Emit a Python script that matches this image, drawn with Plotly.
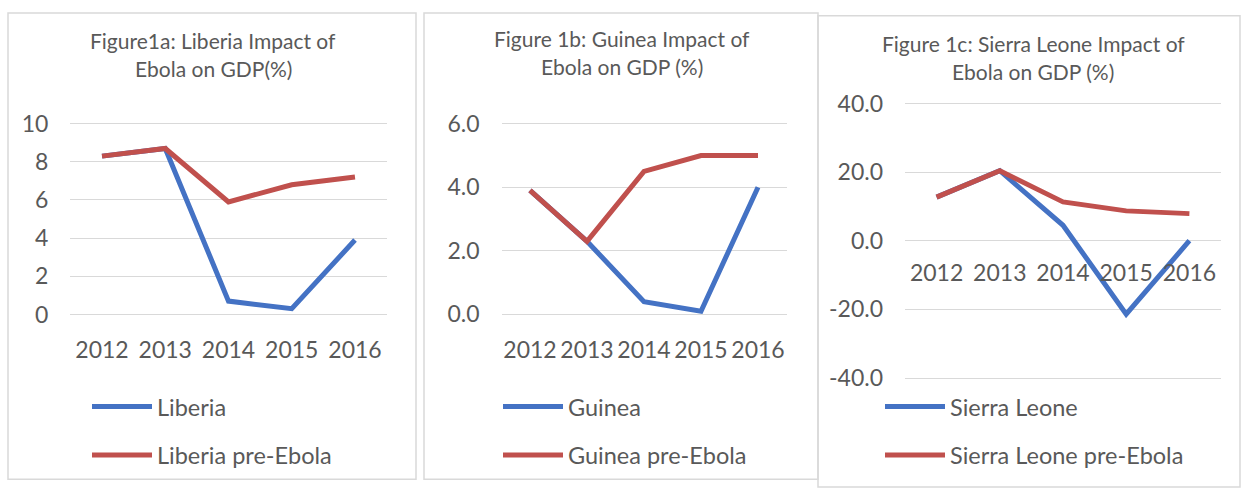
import plotly.graph_objects as go

W, H = 1245, 492

# ---------------- data ----------------
years = ['2012', '2013', '2014', '2015', '2016']

liberia = [8.3, 8.7, 0.7, 0.3, 3.9]
liberia_pre = [8.3, 8.7, 5.9, 6.8, 7.2]

guinea = [3.9, 2.3, 0.4, 0.1, 4.0]
guinea_pre = [3.9, 2.3, 4.5, 5.0, 5.0]

sierra = [12.7, 20.4, 4.5, -21.4, 0.0]
sierra_pre = [12.7, 20.4, 11.3, 8.7, 7.9]

liberia_ticks = [0, 2, 4, 6, 8, 10]
liberia_ticktext = ['0', '2', '4', '6', '8', '10']
guinea_ticks = [0, 2, 4, 6]
guinea_ticktext = ['0.0', '2.0', '4.0', '6.0']
sierra_ticks = [-40, -20, 0, 20, 40]
sierra_ticktext = ['-40.0', '-20.0', '0.0', '20.0', '40.0']

# ---------------- style ----------------
BLUE = '#4472C4'
RED = '#C0504D'
TXT = '#595959'
GRID = '#d9d9d9'
FONT = 'Lato'
TICK_SIZE = 23
LEG_SIZE = 23.5
TITLE_SIZE = 21


def px_x(p):
    return p / W


def px_y(p):
    return 1 - p / H


panels = [
    dict(name='Liberia', s1=liberia, s2=liberia_pre, ticks=liberia_ticks, ticktext=liberia_ticktext,
         xpx=(70.4, 386.6), vtop=10, ptop=118, vbot=0, pbot=316, rng=(-0.4, 10.4), zero_py=316,
         title=['Figure1a: Liberia Impact of', 'Ebola on GDP(%)'], tcx=213, tys=(32, 61),
         box=(8, 3, 416, 487), leg=(87, 411)),
    dict(name='Guinea', s1=guinea, s2=guinea_pre, ticks=guinea_ticks, ticktext=guinea_ticktext,
         xpx=(501.5, 786.5), vtop=6, ptop=118, vbot=0, pbot=316, rng=(-0.25, 6.25), zero_py=316,
         title=['Figure 1b: Guinea Impact of', 'Ebola on GDP (%)'], tcx=622, tys=(30, 59),
         box=(424, 3, 818, 487), leg=(498, 411)),
    dict(name='Sierra Leone', s1=sierra, s2=sierra_pre, ticks=sierra_ticks, ticktext=sierra_ticktext,
         xpx=(905, 1221), vtop=40, ptop=97, vbot=-40, pbot=382, rng=(-41.5, 41.5), zero_py=236,
         title=['Figure 1c: Sierra Leone Impact of', 'Ebola on GDP (%)'], tcx=1033, tys=(35, 64),
         box=(818, 6, 1240, 495), leg=(880, 411)),
]

fig = go.Figure()
layout = dict(
    width=W, height=H, margin=dict(l=0, r=0, t=0, b=0),
    paper_bgcolor='white', plot_bgcolor='white',
    font=dict(family=FONT, color=TXT, size=TICK_SIZE),
    showlegend=True, shapes=[], annotations=[],
)

for i, p in enumerate(panels):
    k = '' if i == 0 else str(i + 1)
    scale = (p['pbot'] - p['ptop']) / (p['vtop'] - p['vbot'])
    y_lo_px = p['pbot'] + (p['vbot'] - p['rng'][0]) * scale
    y_hi_px = p['ptop'] - (p['rng'][1] - p['vtop']) * scale
    leg_name = 'legend' + k
    for j, (series, label, color) in enumerate(
            [(p['s1'], p['name'], BLUE), (p['s2'], p['name'] + ' pre-Ebola', RED)]):
        fig.add_trace(go.Scatter(
            x=years, y=series, mode='lines', name=label,
            line=dict(color=color, width=5),
            xaxis='x' + k, yaxis='y' + k, legend=leg_name,
            legendgroup='g%d%d' % (i, j),
        ))
    layout['xaxis' + k] = dict(
        domain=[px_x(p['xpx'][0]), px_x(p['xpx'][1])],
        anchor='free', position=px_y(p['zero_py']),
        type='category', range=[-0.5, 4.5], tickangle=0,
        showgrid=False, zeroline=False, showline=False, ticks='',
        tickfont=dict(size=TICK_SIZE, color=TXT, family=FONT), ticklabelstandoff=20,
    )
    layout['yaxis' + k] = dict(
        domain=[px_y(y_lo_px), px_y(y_hi_px)], anchor='x' + k,
        range=list(p['rng']), tickvals=p['ticks'], ticktext=p['ticktext'],
        showgrid=True, gridcolor=GRID, gridwidth=1.2, zeroline=False, showline=False, ticks='',
        tickfont=dict(size=TICK_SIZE, color=TXT, family=FONT), ticklabelstandoff=21,
    )
    layout[leg_name] = dict(
        x=px_x(p['leg'][0]), y=px_y(p['leg'][1] - 22), xanchor='left', yanchor='top',
        orientation='v', traceorder='grouped', tracegroupgap=15, itemwidth=60,
        font=dict(size=LEG_SIZE, color=TXT, family=FONT), bgcolor='rgba(0,0,0,0)',
    )
    bx0, by0, bx1, by1 = p['box']
    layout['shapes'].append(dict(
        type='rect', xref='paper', yref='paper', x0=px_x(bx0), x1=px_x(bx1),
        y0=px_y(by1), y1=px_y(by0), line=dict(color=GRID, width=1.5), layer='below'))
    for line_text, ty in zip(p['title'], p['tys']):
        layout['annotations'].append(dict(
            text=line_text, xref='paper', yref='paper', x=px_x(p['tcx']), y=px_y(ty),
            xanchor='center', yanchor='middle', showarrow=False,
            font=dict(size=TITLE_SIZE, color=TXT, family=FONT)))

fig.update_layout(**layout)
fig.write_html('out.html')
